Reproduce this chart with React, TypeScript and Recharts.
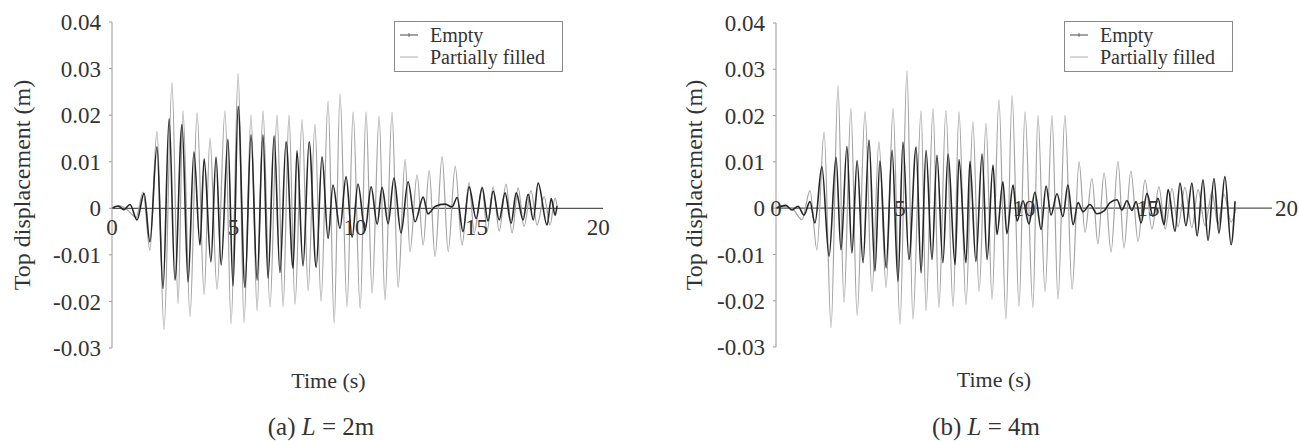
import { LineChart, Line, XAxis, YAxis, ReferenceLine, ReferenceDot, Legend } from 'recharts';

const FONT = '"Liberation Serif", "Times New Roman", serif';
const INK = '#333';
const EMPTY_COLOR = '#262626';
const FILLED_COLOR = '#a3a3a3';

const yTicks = [-0.03, -0.02, -0.01, 0, 0.01, 0.02, 0.03, 0.04];
const xTicks = [0, 5, 10, 15, 20];

// (a) L = 2m, read from peaks and troughs
const timeA_filled = [0, 0.33, 0.66, 0.99, 1.28, 1.56, 1.85, 2.14, 2.47, 2.72, 2.92, 3.21, 3.5, 3.79, 4.03, 4.32, 4.65, 4.9, 5.19, 5.43, 5.72, 5.97, 6.21, 6.5, 6.79, 7.04, 7.28, 7.53, 7.82, 8.07, 8.35, 8.6, 8.89, 9.14, 9.38, 9.67, 9.92, 10.21, 10.45, 10.7, 10.99, 11.23, 11.52, 11.77, 12.06, 12.26, 12.55, 12.8, 13.05, 13.29, 13.58, 13.83, 14.12, 14.4, 14.69, 14.9, 15.23, 15.43, 15.68, 15.93, 16.21, 16.46, 16.71, 16.95, 17.24, 17.49, 17.78, 18.02, 18.23, 18.31];
const dispA_filled = [0, 0.0005, -0.0005, -0.002, 0.0035, -0.009, 0.0165, -0.026, 0.027, -0.0205, 0.021, -0.0233, 0.0205, -0.0185, 0.015, -0.0174, 0.021, -0.0248, 0.029, -0.0245, 0.02, -0.022, 0.021, -0.0212, 0.02, -0.0212, 0.02, -0.0206, 0.019, -0.0177, 0.018, -0.02, 0.023, -0.0247, 0.0245, -0.0212, 0.0207, -0.0215, 0.0207, -0.0182, 0.0198, -0.0197, 0.0206, -0.017, 0.0105, -0.0093, 0.0072, -0.0079, 0.0081, -0.0104, 0.0111, -0.0093, 0.009, -0.0079, 0.0055, -0.0053, 0.0046, -0.0049, 0.0046, -0.0049, 0.0052, -0.0053, 0.0044, -0.0039, 0.0038, -0.0036, 0.0025, -0.0036, 0.0022, 0.0005];
const timeA_empty = [0, 0.25, 0.49, 0.74, 1.03, 1.32, 1.56, 1.85, 2.1, 2.35, 2.59, 2.88, 3.13, 3.37, 3.62, 3.79, 4.07, 4.28, 4.49, 4.77, 4.98, 5.19, 5.47, 5.72, 5.97, 6.21, 6.42, 6.67, 6.91, 7.16, 7.45, 7.61, 7.86, 8.11, 8.4, 8.64, 8.89, 9.09, 9.38, 9.63, 9.88, 10.12, 10.41, 10.66, 10.91, 11.11, 11.36, 11.6, 11.89, 12.18, 12.47, 12.8, 13.0, 13.29, 13.7, 13.99, 14.2, 14.44, 14.69, 14.98, 15.23, 15.47, 15.68, 15.93, 16.17, 16.42, 16.63, 16.91, 17.12, 17.33, 17.53, 17.9, 18.07, 18.23, 18.31];
const dispA_empty = [0, 0.0005, -0.0003, 0.0008, -0.0025, 0.0032, -0.0072, 0.0132, -0.0172, 0.0192, -0.0154, 0.018, -0.0158, 0.0121, -0.0079, 0.0106, -0.0115, 0.011, -0.0122, 0.0148, -0.0167, 0.0219, -0.017, 0.0158, -0.0154, 0.0158, -0.015, 0.0155, -0.0138, 0.0143, -0.0129, 0.0124, -0.0124, 0.0143, -0.0127, 0.0111, -0.0065, 0.005, -0.0043, 0.0068, -0.0062, 0.0052, -0.0048, 0.0046, -0.0034, 0.0045, -0.0033, 0.0065, -0.0053, 0.0057, -0.0029, 0.0024, -0.0012, 0.0004, 0.0009, 0.0003, 0.0023, -0.005, 0.0046, -0.0022, 0.0044, -0.0027, 0.0037, -0.0025, 0.0033, -0.0032, 0.0033, -0.0025, 0.003, -0.0025, 0.0054, -0.0036, 0.0021, -0.0015, 0.0005];

// (b) L = 4m
const timeB_filled = [0, 0.36, 0.69, 1.05, 1.37, 1.65, 1.94, 2.22, 2.5, 2.74, 3.02, 3.27, 3.59, 3.87, 4.15, 4.44, 4.72, 5.0, 5.28, 5.52, 5.85, 6.05, 6.33, 6.57, 6.85, 7.14, 7.38, 7.66, 7.94, 8.19, 8.47, 8.71, 8.99, 9.27, 9.52, 9.8, 10.04, 10.36, 10.56, 10.85, 11.13, 11.37, 11.65, 11.94, 12.22, 12.46, 12.74, 12.98, 13.23, 13.51, 13.79, 14.03, 14.31, 14.6, 14.88, 15.16, 15.44, 15.69, 15.97, 16.21, 16.49, 16.77, 17.02, 17.3, 17.58, 17.82, 18.06, 18.35, 18.55];
const dispB_filled = [0, 0.0003, -0.0003, -0.0025, 0.0038, -0.009, 0.0165, -0.0258, 0.0265, -0.0204, 0.0215, -0.0232, 0.0208, -0.018, 0.0143, -0.0172, 0.0215, -0.0251, 0.0297, -0.024, 0.0211, -0.0222, 0.0215, -0.0215, 0.0211, -0.0213, 0.0208, -0.0208, 0.0186, -0.018, 0.0183, -0.0197, 0.0234, -0.024, 0.0243, -0.0213, 0.0208, -0.0215, 0.02, -0.018, 0.02, -0.0197, 0.02, -0.0175, 0.01, -0.0052, 0.0064, -0.0077, 0.0076, -0.0095, 0.0101, -0.0086, 0.008, -0.0072, 0.0061, -0.0045, 0.0046, -0.0045, 0.0042, -0.004, 0.0045, -0.0042, 0.004, -0.0038, 0.0035, -0.0035, 0.003, -0.003, 0];
const timeB_empty = [0, 0.4, 0.65, 0.89, 1.13, 1.37, 1.57, 1.85, 2.14, 2.42, 2.62, 2.86, 3.06, 3.27, 3.51, 3.75, 3.99, 4.19, 4.44, 4.68, 4.92, 5.12, 5.36, 5.65, 5.85, 6.05, 6.29, 6.49, 6.73, 6.94, 7.22, 7.38, 7.66, 7.82, 8.06, 8.31, 8.51, 8.75, 8.91, 9.15, 9.31, 9.56, 9.72, 9.96, 10.2, 10.44, 10.69, 10.89, 11.09, 11.33, 11.57, 11.77, 11.98, 12.18, 12.38, 12.66, 12.94, 13.23, 13.47, 13.75, 13.95, 14.15, 14.35, 14.52, 14.72, 14.96, 15.2, 15.4, 15.65, 15.81, 16.09, 16.29, 16.53, 16.77, 16.98, 17.22, 17.42, 17.66, 17.86, 18.1, 18.35, 18.51];
const dispB_empty = [0, 0.0006, -0.0004, 0.0004, -0.0015, 0.0014, -0.0032, 0.009, -0.0104, 0.011, -0.009, 0.0133, -0.0097, 0.0103, -0.0118, 0.0147, -0.0136, 0.0102, -0.0129, 0.0125, -0.0158, 0.0143, -0.0111, 0.0132, -0.014, 0.0125, -0.0111, 0.0114, -0.0118, 0.0117, -0.0122, 0.0105, -0.0118, 0.0101, -0.0115, 0.0117, -0.0111, 0.0093, -0.0057, 0.0057, -0.0055, 0.005, -0.0028, 0.0016, -0.0034, 0.0034, -0.0046, 0.0048, -0.0015, 0.0031, -0.0018, 0.005, -0.0036, 0.0012, -0.0008, 0.0008, -0.0012, -0.0006, 0.0012, 0.0018, -0.0004, 0.0016, -0.0005, 0.0014, -0.0032, 0.0032, -0.0018, 0.0021, -0.0036, 0.004, -0.005, 0.0054, -0.0038, 0.0054, -0.006, 0.0061, -0.007, 0.0064, -0.0054, 0.0068, -0.0079, 0.0015];

type Pt = { t: number; v: number };
const zip = (ts: number[], vs: number[]): Pt[] => ts.map((t, i) => ({ t, v: vs[i] }));

const yTitle = (cx: number) => (props: any) => {
  const vb = props.viewBox;
  const x = vb.x + cx;
  const y = vb.y + vb.height / 2;
  return (
    <text x={x} y={y} transform={`rotate(-90 ${x} ${y})`} textAnchor="middle" dominantBaseline="central"
      fill={INK} fontSize={24} fontFamily={FONT}>
      Top displacement (m)
    </text>
  );
};

function LegendBox({ payload }: any) {
  const items = [...(payload ?? [])].sort((a, b) => String(a.value).localeCompare(String(b.value)));
  return (
    <div style={{
      boxSizing: 'border-box', width: 169, height: 51, border: '1px solid #8a8a8a', background: '#fff',
      padding: '2px 0 0 5px', fontFamily: FONT, fontSize: 20, lineHeight: '22px', color: INK,
    }}>
      {items.map((it: any) => (
        <div key={it.value} style={{ display: 'flex', alignItems: 'center', height: 22 }}>
          <svg width={18} height={10} style={{ marginRight: 12 }}>
            <line x1={0} y1={5} x2={18} y2={5} stroke={it.value === 'Empty' ? '#666' : '#bbb'} strokeWidth={1.2} />
            {it.value === 'Empty' && <line x1={9} y1={3} x2={9} y2={7} stroke="#666" />}
          </svg>
          <span>{it.value}</span>
        </div>
      ))}
    </div>
  );
}

interface PanelProps {
  empty: Pt[];
  filled: Pt[];
  width: number;
  axisWidth: number;
  right: number;
  top: number;
  bottom: number;
  xMax: number;
  titleX: number;
  titleDx: number;
  legendLeft: number;
  labelsOnLine: boolean;
}

function Panel(p: PanelProps) {
  const tickLabel = (t: number) => {
    const base = { value: String(t), fill: INK, fontSize: 23, fontFamily: FONT };
    if (!p.labelsOnLine) return { ...base, position: 'bottom' as const, offset: 10 };
    if (t === 20) return { ...base, position: 'right' as const, offset: 3 };
    return { ...base, position: 'center' as const };
  };
  return (
    <LineChart width={p.width} height={441} margin={{ top: p.top, right: p.right, bottom: p.bottom, left: 0 }}>
      <XAxis
        type="number"
        dataKey="t"
        domain={[0, p.xMax]}
        allowDataOverflow
        axisLine={false}
        tickLine={false}
        tick={false}
        height={45}
        label={{ value: 'Time (s)', position: 'insideBottom', offset: 5, dx: p.titleDx, fill: INK, fontSize: 22, fontFamily: FONT }}
      />
      <YAxis
        type="number"
        domain={[-0.03, 0.04]}
        ticks={yTicks}
        width={p.axisWidth}
        tickFormatter={(v: number) => (v === 0 ? '0' : v.toFixed(2))}
        axisLine={{ stroke: '#999' }}
        tickLine={{ stroke: '#999' }}
        tickSize={3}
        tickMargin={8}
        tick={{ fill: INK, fontSize: 23, fontFamily: FONT }}
        label={yTitle(p.titleX)}
      />
      <ReferenceLine y={0} stroke="#555" strokeWidth={1.2} />
      {xTicks.map((t) => (
        <ReferenceDot key={t} x={t} y={0} r={0} fill="none" stroke="none" label={tickLabel(t)} />
      ))}
      <Line
        data={p.filled}
        dataKey="v"
        name="Partially filled"
        type="monotone"
        stroke={FILLED_COLOR}
        strokeWidth={1.2}
        dot={false}
        activeDot={false}
        isAnimationActive={false}
      />
      <Line
        data={p.empty}
        dataKey="v"
        name="Empty"
        type="monotone"
        stroke={EMPTY_COLOR}
        strokeWidth={1.6}
        dot={false}
        activeDot={false}
        isAnimationActive={false}
      />
      <Legend
        layout="vertical"
        align="center"
        verticalAlign="middle"
        wrapperStyle={{ left: p.legendLeft, top: 21, width: 169 }}
        content={LegendBox}
      />
    </LineChart>
  );
}

export default function App() {
  return (
    <div style={{ position: 'absolute', left: 0, top: 0, width: 1299, height: 441, background: '#fff', fontFamily: FONT, color: INK }}>
      <div style={{ position: 'absolute', left: 0, top: 0 }}>
        <Panel
          empty={zip(timeA_empty, dispA_empty)}
          filled={zip(timeA_filled, dispA_filled)}
          width={640}
          axisWidth={112}
          right={37}
          top={22}
          bottom={48}
          xMax={20.2}
          titleX={22}
          titleDx={-29}
          legendLeft={394}
          labelsOnLine={false}
        />
      </div>
      <div style={{ position: 'absolute', left: 650, top: 0 }}>
        <Panel
          empty={zip(timeB_empty, dispB_empty)}
          filled={zip(timeB_filled, dispB_filled)}
          width={649}
          axisWidth={126}
          right={27}
          top={23}
          bottom={49}
          xMax={20}
          titleX={44}
          titleDx={-30}
          legendLeft={414}
          labelsOnLine
        />
      </div>
      <div style={{ position: 'absolute', left: 221, top: 413, width: 200, textAlign: 'center', fontSize: 25, lineHeight: '28px' }}>
        (a) <i>L</i> = 2m
      </div>
      <div style={{ position: 'absolute', left: 886, top: 413, width: 200, textAlign: 'center', fontSize: 25, lineHeight: '28px' }}>
        (b) <i>L</i> = 4m
      </div>
    </div>
  );
}
